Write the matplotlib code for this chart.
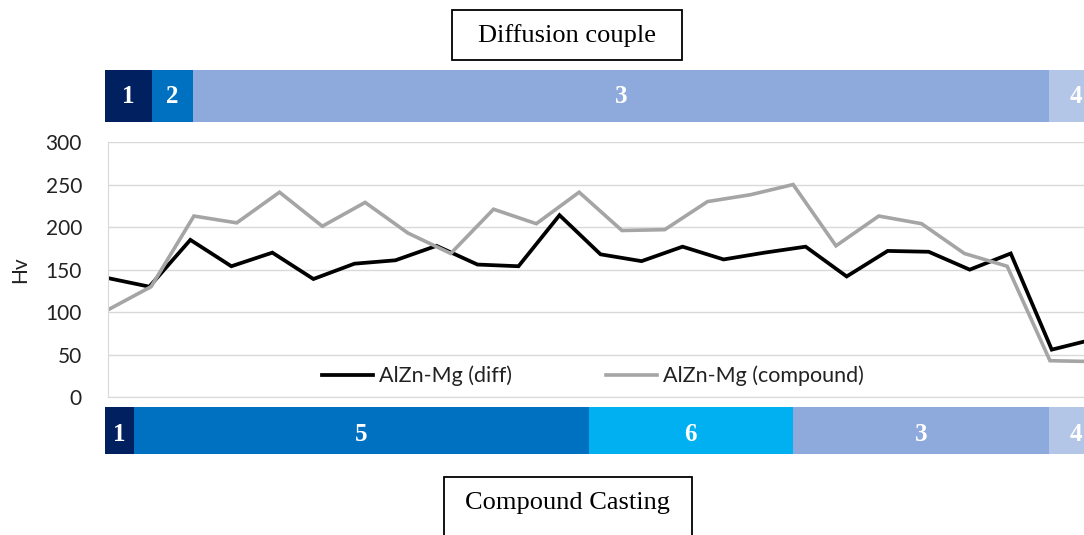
import matplotlib
matplotlib.use("Agg")
import matplotlib.pyplot as plt
from matplotlib.patches import Rectangle
import numpy as np

# hardness profiles (Hv)
hv_diff = [140, 130, 185, 154, 170, 139, 157, 161, 178, 156, 154, 214, 168,
           160, 177, 162, 170, 177, 142, 172, 171, 150, 169, 56, 68]
hv_compound = [103, 130, 213, 205, 241, 201, 229, 193, 169, 221, 204, 241,
               196, 197, 230, 238, 250, 178, 213, 204, 169, 154, 43, 42]

# measurement positions: both profiles cover the same length
x_diff = np.linspace(0, 24, len(hv_diff))
x_compound = np.linspace(0, 24, len(hv_compound))

# zones above (diffusion couple) and below (compound casting) the chart
top_zones = ["1", "2", "3", "4"]
top_edges = [-0.08, 1.06, 2.06, 22.94, 25.0]
bottom_zones = ["1", "5", "6", "3", "4"]
bottom_edges = [-0.08, 0.63, 11.72, 16.68, 22.94, 25.0]
zone_colors = {"1": "#002060", "2": "#0070C0", "5": "#0070C0",
               "6": "#00B0F0", "3": "#8EA9DB", "4": "#B4C6E7"}

W, H = 1084, 535
fig = plt.figure(figsize=(W / 100, H / 100), dpi=100)


def fx(px):
    return px / W


def fy(py):
    return 1 - py / H


left = fx(108.3)
x_right = (W - 108.3) / 41.02

ax = fig.add_axes([left, fy(397.3), 1 - left, fy(142) - fy(397.3)])
ax.plot(x_diff, hv_diff, color="black", lw=2.7, label="AlZn-Mg (diff)",
        solid_joinstyle="miter")
ax.plot(x_compound, hv_compound, color="#A5A5A5", lw=2.6,
        label="AlZn-Mg (compound)", solid_joinstyle="miter")
ax.set_xlim(0, x_right)
ax.set_ylim(0, 300)
ax.set_yticks(range(0, 301, 50))
ax.set_xticks([])
ax.grid(axis="y", color="#D9D9D9", lw=1.0)
ax.set_axisbelow(True)
for side in ["top", "right"]:
    ax.spines[side].set_visible(False)
ax.spines["left"].set_color("#D9D9D9")
ax.spines["bottom"].set_color("#D9D9D9")
ax.tick_params(axis="y", length=0, pad=19, labelsize=15)
for t in ax.get_yticklabels():
    t.set_fontfamily("Lato")
    t.set_color("#222222")

fig.text(fx(20), fy(270), "Hv", rotation=90, ha="center", va="center",
         fontsize=15, family="Lato", color="#222222")

ax.legend(loc="center", bbox_to_anchor=(fx(593), fy(376)),
          bbox_transform=fig.transFigure, ncol=2, frameon=False,
          prop={"family": "Lato", "size": 15.5}, handlelength=2.37,
          handletextpad=0.25, columnspacing=4.4, labelcolor="#222222")


def draw_band(y_top, y_bot, zones, edges, text_dy):
    bax = fig.add_axes([left, fy(y_bot), 1 - left, fy(y_top) - fy(y_bot)])
    bax.set_xlim(0, x_right)
    bax.set_ylim(0, 1)
    bax.axis("off")
    for i, name in enumerate(zones):
        x0, x1 = edges[i], edges[i + 1]
        bax.add_patch(Rectangle((x0, 0), x1 - x0, 1, color=zone_colors[name],
                                clip_on=False, lw=0))
        xc = (x0 + min(x1, x_right + 0.45)) / 2
        bax.text(xc, 0.5 + text_dy, name, ha="center", va="center",
                 color="white", fontsize=18, fontweight="bold",
                 family="Liberation Serif", clip_on=False)


draw_band(70, 122.3, top_zones, top_edges, 0.0)
draw_band(407.3, 453.7, bottom_zones, bottom_edges, -0.08)

# caption boxes
fig.patches.append(Rectangle((fx(452), fy(60)), fx(682) - fx(452), fy(10) - fy(60),
                             transform=fig.transFigure, fill=False,
                             edgecolor="black", lw=1.3))
fig.text(fx(567), fy(36), "Diffusion couple", ha="center", va="center",
         fontsize=19, family="Liberation Serif")
fig.patches.append(Rectangle((fx(444), fy(560)), fx(692) - fx(444), fy(477) - fy(560),
                             transform=fig.transFigure, fill=False,
                             edgecolor="black", lw=1.3))
fig.text(fx(567), fy(503), "Compound Casting", ha="center", va="center",
         fontsize=19, family="Liberation Serif")

fig.savefig("out.png", dpi=100)
